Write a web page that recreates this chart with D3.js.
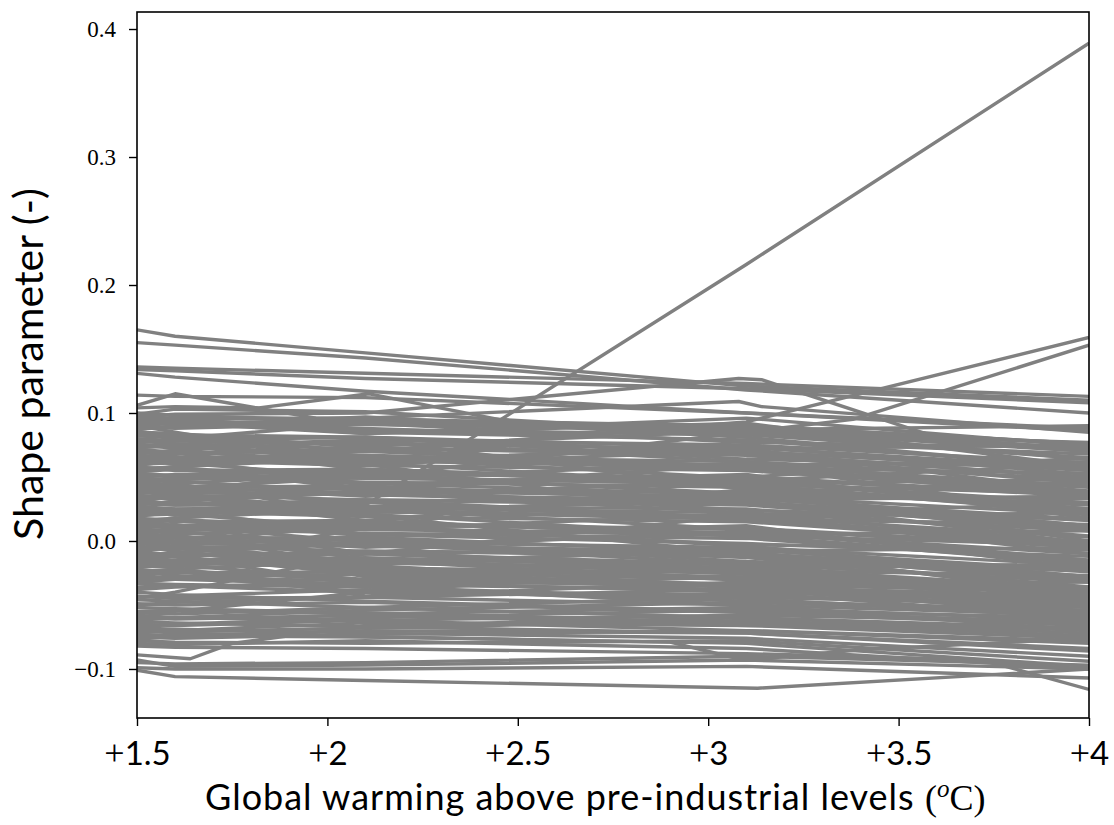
<!DOCTYPE html>
<html>
<head>
<meta charset="utf-8">
<script src="https://cdn.jsdelivr.net/npm/d3@7"></script>
<style>
  body { margin: 0; background: #fff; }
  svg { display: block; }
</style>
</head>
<body>
<div id="chart"></div>
<script>
// warming levels (deg C above pre-industrial) shared by most model runs
const warmingLevels = [1.5, 1.6, 2.1, 3.1, 4.0];

// runs sitting above the main band
const upperRuns = [
  [0.165, 0.160, 0.147, 0.121, 0.110],
  [0.155, 0.153, 0.143, 0.118, 0.100],
  [0.136, 0.135, 0.131, 0.123, 0.113],
  [0.134, 0.133, 0.127, 0.119, 0.108],
  [0.131, 0.128, 0.117, 0.100, 0.088],
  [0.114, 0.113, 0.112, 0.100, 0.086],
  [0.060, 0.062, 0.070, 0.093, 0.159],
  [0.030, 0.028, 0.028, 0.216, 0.389],
];

// the dense band of runs
const bandRuns = [
  [0.100, 0.098, 0.094, 0.090, 0.072],
  [0.098, 0.095, 0.096, 0.084, 0.064],
  [0.097, 0.096, 0.085, 0.079, 0.057],
  [0.095, 0.093, 0.091, 0.087, 0.090],
  [0.093, 0.091, 0.087, 0.083, 0.065],
  [0.092, 0.092, 0.084, 0.096, 0.074],
  [0.090, 0.092, 0.094, 0.086, 0.070],
  [0.088, 0.089, 0.094, 0.090, 0.076],
  [0.087, 0.090, 0.097, 0.081, 0.057],
  [0.085, 0.084, 0.073, 0.067, 0.045],
  [0.083, 0.080, 0.081, 0.069, 0.049],
  [0.082, 0.082, 0.074, 0.086, 0.064],
  [0.080, 0.078, 0.076, 0.072, 0.075],
  [0.078, 0.076, 0.072, 0.068, 0.050],
  [0.077, 0.079, 0.081, 0.073, 0.057],
  [0.075, 0.074, 0.063, 0.057, 0.035],
  [0.073, 0.074, 0.079, 0.075, 0.061],
  [0.072, 0.069, 0.070, 0.058, 0.038],
  [0.070, 0.070, 0.062, 0.074, 0.052],
  [0.068, 0.071, 0.078, 0.062, 0.038],
  [0.067, 0.065, 0.063, 0.059, 0.062],
  [0.065, 0.063, 0.059, 0.055, 0.037],
  [0.063, 0.065, 0.067, 0.059, 0.043],
  [0.062, 0.061, 0.050, 0.044, 0.022],
  [0.060, 0.061, 0.066, 0.062, 0.048],
  [0.058, 0.055, 0.056, 0.044, 0.024],
  [0.057, 0.057, 0.049, 0.061, 0.039],
  [0.055, 0.058, 0.065, 0.049, 0.025],
  [0.053, 0.051, 0.049, 0.045, 0.048],
  [0.052, 0.050, 0.046, 0.042, 0.024],
  [0.050, 0.052, 0.054, 0.046, 0.030],
  [0.048, 0.047, 0.036, 0.030, 0.008],
  [0.047, 0.048, 0.053, 0.049, 0.035],
  [0.045, 0.042, 0.043, 0.031, 0.011],
  [0.043, 0.043, 0.035, 0.047, 0.025],
  [0.042, 0.045, 0.052, 0.036, 0.012],
  [0.040, 0.038, 0.036, 0.032, 0.035],
  [0.038, 0.036, 0.032, 0.028, 0.010],
  [0.037, 0.039, 0.041, 0.033, 0.017],
  [0.035, 0.034, 0.023, 0.017, -0.005],
  [0.033, 0.034, 0.039, 0.035, 0.021],
  [0.032, 0.029, 0.030, 0.018, -0.002],
  [0.030, 0.030, 0.022, 0.034, 0.012],
  [0.028, 0.031, 0.038, 0.022, -0.002],
  [0.027, 0.025, 0.023, 0.019, 0.022],
  [0.025, 0.023, 0.019, 0.015, -0.003],
  [0.023, 0.025, 0.027, 0.019, 0.003],
  [0.022, 0.021, 0.010, 0.004, -0.018],
  [0.020, 0.021, 0.026, 0.022, 0.008],
  [0.018, 0.015, 0.016, 0.004, -0.016],
  [0.017, 0.017, 0.009, 0.021, -0.001],
  [0.015, 0.018, 0.025, 0.009, -0.015],
  [0.013, 0.011, 0.009, 0.005, 0.008],
  [0.012, 0.010, 0.006, 0.002, -0.016],
  [0.010, 0.012, 0.014, 0.006, -0.010],
  [0.008, 0.007, -0.004, -0.010, -0.032],
  [0.007, 0.008, 0.013, 0.009, -0.005],
  [0.005, 0.002, 0.003, -0.009, -0.029],
  [0.003, 0.003, -0.005, 0.007, -0.015],
  [0.002, 0.005, 0.012, -0.004, -0.028],
  [0.000, -0.002, -0.004, -0.008, -0.005],
  [-0.002, -0.004, -0.008, -0.012, -0.030],
  [-0.003, -0.001, 0.001, -0.007, -0.023],
  [-0.005, -0.006, -0.017, -0.023, -0.045],
  [-0.007, -0.006, -0.001, -0.005, -0.019],
  [-0.008, -0.011, -0.010, -0.022, -0.042],
  [-0.010, -0.010, -0.018, -0.006, -0.028],
  [-0.012, -0.009, -0.002, -0.018, -0.042],
  [-0.013, -0.015, -0.017, -0.021, -0.018],
  [-0.015, -0.017, -0.021, -0.025, -0.043],
  [-0.017, -0.015, -0.013, -0.021, -0.037],
  [-0.018, -0.019, -0.030, -0.036, -0.058],
  [-0.020, -0.019, -0.014, -0.018, -0.032],
  [-0.022, -0.025, -0.024, -0.036, -0.056],
  [-0.023, -0.023, -0.031, -0.019, -0.041],
  [-0.025, -0.022, -0.015, -0.031, -0.055],
  [-0.027, -0.029, -0.031, -0.035, -0.032],
  [-0.028, -0.030, -0.034, -0.038, -0.056],
  [-0.030, -0.028, -0.026, -0.034, -0.050],
  // in-between runs
  [0.099, 0.103, 0.101, 0.084, 0.077],
  [0.094, 0.096, 0.084, 0.092, 0.058],
  [0.089, 0.088, 0.092, 0.077, 0.073],
  [0.084, 0.080, 0.092, 0.090, 0.076],
  [0.079, 0.083, 0.081, 0.064, 0.057],
  [0.074, 0.076, 0.064, 0.072, 0.038],
  [0.069, 0.068, 0.072, 0.057, 0.053],
  [0.064, 0.060, 0.072, 0.070, 0.056],
  [0.059, 0.063, 0.061, 0.044, 0.037],
  [0.054, 0.056, 0.044, 0.052, 0.018],
  [0.049, 0.048, 0.052, 0.037, 0.033],
  [0.044, 0.040, 0.052, 0.050, 0.036],
  [0.039, 0.043, 0.041, 0.024, 0.017],
  [0.034, 0.036, 0.024, 0.032, -0.002],
  [0.029, 0.028, 0.032, 0.017, 0.013],
  [0.024, 0.020, 0.032, 0.030, 0.016],
  [0.019, 0.023, 0.021, 0.004, -0.003],
  [0.014, 0.016, 0.004, 0.012, -0.022],
  [0.009, 0.008, 0.012, -0.003, -0.007],
  [0.004, 0.000, 0.012, 0.010, -0.004],
  [-0.001, 0.003, 0.001, -0.016, -0.023],
  [-0.006, -0.004, -0.016, -0.008, -0.042],
  [-0.011, -0.012, -0.008, -0.023, -0.027],
  [-0.016, -0.020, -0.008, -0.010, -0.024],
  [-0.021, -0.017, -0.019, -0.036, -0.043],
  [-0.026, -0.024, -0.036, -0.028, -0.062],
  [-0.004, -0.008, -0.024, -0.030, -0.038],
  [0.006, 0.004, -0.014, -0.026, -0.048],
  [-0.014, -0.012, -0.026, -0.016, -0.052],
  [-0.024, -0.027, -0.040, -0.044, -0.048],
  [-0.032, -0.030, -0.022, -0.028, -0.036],
  [0.016, 0.012, -0.001, -0.013, -0.036],
  [0.026, 0.024, 0.005, -0.002, -0.012],
  [-0.038, -0.036, -0.032, -0.040, -0.046],
  [0.046, 0.044, 0.027, 0.025, 0.004],
  [0.066, 0.064, 0.045, 0.036, 0.030],
  [0.086, 0.081, 0.066, 0.055, 0.042],
  [0.056, 0.058, 0.040, 0.038, 0.046],
  [0.036, 0.032, 0.016, 0.040, 0.028],
  [0.011, 0.013, -0.010, -0.018, -0.020],
  [-0.019, -0.021, -0.043, -0.032, -0.038],
  [0.001, -0.001, -0.028, -0.034, -0.040],
  [0.076, 0.072, 0.056, 0.047, 0.060],
  [0.096, 0.094, 0.088, 0.078, 0.068],
  // runs cutting across the band
  [0.090, 0.085, 0.060, 0.020, -0.010],
  [-0.020, -0.015, 0.010, 0.050, 0.065],
  [0.060, 0.065, 0.080, 0.040, 0.000],
  [0.010, 0.005, -0.020, -0.040, -0.060],
  [-0.045, -0.040, -0.010, 0.020, 0.030],
  [0.070, 0.066, 0.040, 0.060, 0.020],
  [0.030, 0.036, 0.060, 0.070, 0.055],
  [-0.010, -0.012, -0.035, -0.050, -0.070],
  [0.050, 0.045, 0.020, -0.010, -0.040],
  [-0.060, -0.055, -0.040, -0.020, -0.045],
];

// looser runs below the band
const lowerRuns = [
  [-0.033, -0.034, -0.036, -0.045, -0.060],
  [-0.036, -0.035, -0.040, -0.042, -0.052],
  [-0.040, -0.042, -0.047, -0.055, -0.064],
  [-0.043, -0.045, -0.044, -0.050, -0.058],
  [-0.044, -0.043, -0.038, -0.047, -0.054],
  [-0.046, -0.047, -0.052, -0.060, -0.070],
  [-0.049, -0.050, -0.048, -0.056, -0.066],
  [-0.050, -0.048, -0.044, -0.038, -0.044],
  [-0.052, -0.053, -0.056, -0.064, -0.074],
  [-0.055, -0.054, -0.057, -0.052, -0.062],
  [-0.056, -0.057, -0.052, -0.044, -0.050],
  [-0.058, -0.060, -0.062, -0.070, -0.080],
  [-0.060, -0.061, -0.058, -0.066, -0.068],
  [-0.062, -0.060, -0.054, -0.048, -0.056],
  [-0.063, -0.064, -0.067, -0.072, -0.086],
  [-0.065, -0.066, -0.062, -0.058, -0.063],
  [-0.067, -0.065, -0.060, -0.054, -0.060],
  [-0.068, -0.069, -0.072, -0.076, -0.090],
  [-0.070, -0.071, -0.068, -0.062, -0.072],
  [-0.072, -0.070, -0.064, -0.066, -0.076],
  [-0.073, -0.074, -0.075, -0.080, -0.098],
  [-0.075, -0.076, -0.073, -0.070, -0.078],
  [-0.077, -0.074, -0.070, -0.072, -0.084],
  [-0.078, -0.079, -0.080, -0.078, -0.094],
  [-0.080, -0.081, -0.078, -0.084, -0.100],
  [-0.093, -0.098, -0.097, -0.093, -0.100],
  [-0.095, -0.096, -0.095, -0.090, -0.097],
  [-0.099, -0.100, -0.100, -0.098, -0.107],
];

// runs whose warming levels fall elsewhere
const irregularLevels = [
  [1.5, 1.82, 2.11, 3.38, 4.0],
  [1.5, 1.6, 2.1, 3.08, 3.14, 4.0],
  [1.5, 1.6, 2.1, 3.08, 3.14, 4.0],
  [1.5, 1.6, 1.97, 3.04, 4.0],
  [1.5, 1.6, 1.82, 2.11, 2.5, 3.1, 4.0],
  [1.5, 1.64, 1.75, 2.1, 3.1, 4.0],
  [1.5, 1.6, 2.9, 3.08, 3.14, 3.4, 4.0],
  [1.5, 1.6, 2.1, 3.1, 3.72, 4.0],
  [1.5, 1.6, 2.1, 3.13, 4.0],
];
const irregularRuns = [
  [0.040, 0.045, 0.050, 0.095, 0.153],
  [0.097, 0.099, 0.100, 0.127, 0.126, 0.042],
  [0.094, 0.096, 0.096, 0.109, 0.105, 0.085],
  [0.106, 0.115, 0.096, 0.090, 0.072],
  [0.104, 0.105, 0.104, 0.115, 0.092, 0.088, 0.070],
  [-0.089, -0.092, -0.080, -0.066, -0.060, -0.068],
  [-0.070, -0.072, -0.079, -0.092, -0.092, -0.085, -0.076],
  [-0.082, -0.083, -0.084, -0.088, -0.093, -0.116],
  [-0.101, -0.106, -0.109, -0.115, -0.100],
];

const yTicks = [-0.1, 0.0, 0.1, 0.2, 0.3, 0.4];
const xTicks = [1.5, 2, 2.5, 3, 3.5, 4];

const width = 1114;
const height = 825;
const margin = { top: 12, right: 25, bottom: 107, left: 137 };
const innerW = width - margin.left - margin.right;
const innerH = height - margin.top - margin.bottom;

const sansFont = 'Lato, "Open Sans", sans-serif';
const serifFont = '"Liberation Serif", "DejaVu Serif", serif';

const svg = d3.select('#chart')
  .append('svg')
  .attr('width', width)
  .attr('height', height);

const graph = svg.append('g')
  .attr('transform', `translate(${margin.left}, ${margin.top})`);

const x = d3.scaleLinear().domain([1.5, 4]).range([0, innerW]);
const y = d3.scaleLinear().domain([-0.1383, 0.4133]).range([innerH, 0]);

graph.append('clipPath').attr('id', 'plot-clip')
  .append('rect').attr('width', innerW).attr('height', innerH);

const runs = [];
upperRuns.concat(bandRuns, lowerRuns).forEach((vals) => {
  runs.push(vals.map((v, i) => [warmingLevels[i], v]));
});
irregularRuns.forEach((vals, k) => {
  runs.push(vals.map((v, i) => [irregularLevels[k][i], v]));
});

const line = d3.line()
  .x((d) => x(d[0]))
  .y((d) => y(d[1]));

graph.append('g')
  .attr('clip-path', 'url(#plot-clip)')
  .selectAll('path')
  .data(runs)
  .enter()
  .append('path')
  .attr('fill', 'none')
  .attr('stroke', '#808080')
  .attr('stroke-width', 3.4)
  .attr('stroke-linejoin', 'round')
  .attr('d', line);

// axes
const fmt = d3.format('.1f');
const yAxis = d3.axisLeft(y)
  .tickValues(yTicks)
  .tickSize(8)
  .tickPadding(13)
  .tickFormat((d) => (d < 0 ? '\u2212' + fmt(-d) : fmt(d)));

const yAxisGroup = graph.append('g').call(yAxis);
yAxisGroup.select('.domain').remove();
yAxisGroup.selectAll('line').attr('stroke', '#000').attr('stroke-width', 1.4);
yAxisGroup.selectAll('text')
  .attr('fill', '#000')
  .style('font-family', serifFont)
  .style('font-size', '23px');

const xAxis = d3.axisBottom(x)
  .tickValues(xTicks)
  .tickSize(8)
  .tickFormat((d) => String(d));

const xAxisGroup = graph.append('g')
  .attr('transform', `translate(0, ${innerH})`)
  .call(xAxis);
xAxisGroup.select('.domain').remove();
xAxisGroup.selectAll('line').attr('stroke', '#000').attr('stroke-width', 1.4);
xAxisGroup.selectAll('text').each(function (d) {
  const t = d3.select(this);
  t.text(null)
    .attr('y', 47)
    .attr('dy', null)
    .attr('fill', '#000')
    .style('font-size', '33px');
  t.append('tspan').style('font-family', serifFont).style('font-size', '36px').text('+');
  t.append('tspan').style('font-family', sansFont).text(String(d));
});

// frame
graph.append('rect')
  .attr('width', innerW)
  .attr('height', innerH)
  .attr('fill', 'none')
  .attr('stroke', '#000')
  .attr('stroke-width', 1.6);

// axis titles
const xTitle = svg.append('text')
  .attr('x', 205)
  .attr('y', 810)
  .attr('fill', '#000')
  .style('font-size', '36px');
xTitle.append('tspan').style('font-family', sansFont)
  .style('letter-spacing', '1px')
  .text('Global warming above pre-industrial levels ');
xTitle.append('tspan').style('font-family', serifFont).text('(');
xTitle.append('tspan').style('font-family', serifFont)
  .style('font-style', 'italic').style('font-size', '25px')
  .attr('dy', -13).text('o');
xTitle.append('tspan').style('font-family', serifFont)
  .attr('dy', 13).text('C)');

svg.append('text')
  .attr('transform', `translate(43, ${margin.top + innerH / 2 - 1}) rotate(-90)`)
  .attr('text-anchor', 'middle')
  .attr('fill', '#000')
  .style('font-family', sansFont)
  .style('font-size', '41px')
  .text('Shape parameter (-)');
</script>
</body>
</html>
